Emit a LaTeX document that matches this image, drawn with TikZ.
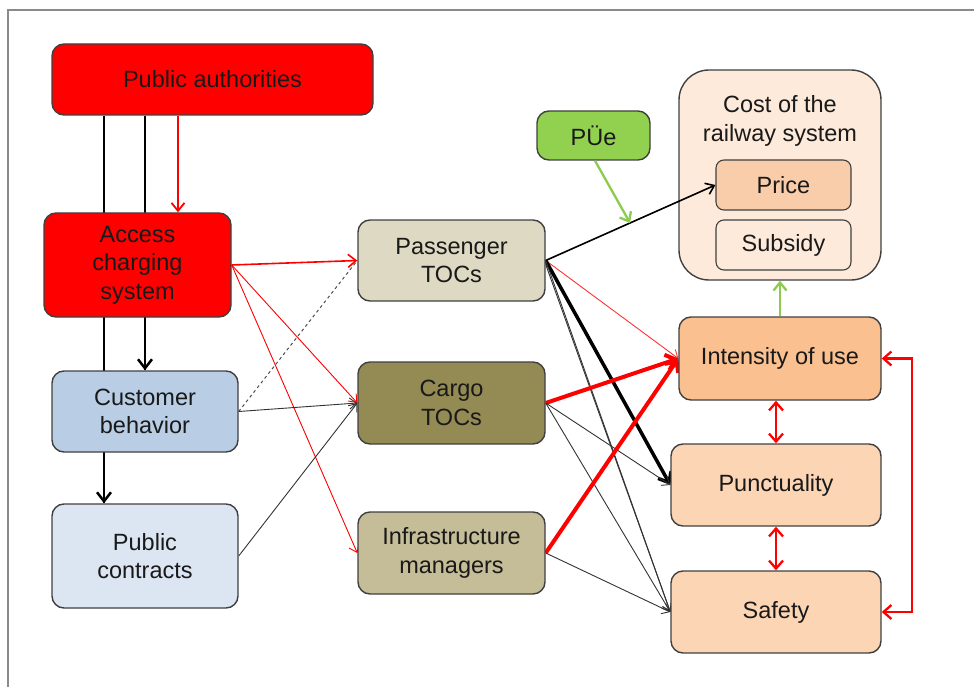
\documentclass[tikz,border=0pt]{standalone}
\usepackage{fontspec}
\setmainfont{Liberation Sans}
\usetikzlibrary{arrows.meta,calc,backgrounds}
\definecolor{cRed}{HTML}{FF0000}
\definecolor{cCB}{HTML}{B9CDE5}
\definecolor{cPC}{HTML}{DCE6F2}
\definecolor{cPT}{HTML}{DDD9C3}
\definecolor{cCT}{HTML}{948A54}
\definecolor{cIM}{HTML}{C4BD97}
\definecolor{cPU}{HTML}{92D050}
\definecolor{cCost}{HTML}{FDEADA}
\definecolor{cPrice}{HTML}{F9CDAA}
\definecolor{cIU}{HTML}{FAC090}
\definecolor{cPS}{HTML}{FCD5B5}
\definecolor{cEdge}{HTML}{404040}
\definecolor{cGreen}{HTML}{8CCB4E}
\definecolor{cFrame}{HTML}{8A8A8A}
\tikzset{
  box/.style={draw=cEdge, line width=1.4pt, rounded corners=12pt, align=center,
    inner sep=0pt, font=\fontsize{23.5}{28.5}\selectfont, text=black!90},
  thinarr/.style={line width=0.9pt, -{Straight Barb[length=7pt,width=11pt]}},
  medarr/.style={line width=1.6pt, -{Straight Barb[length=8pt,width=13pt]}},
  thickarr/.style={line width=3.5pt, -{Straight Barb[length=9pt,width=15pt]}},
  redthick/.style={line width=4pt, -{Straight Barb[length=9pt,width=16pt]}},
  dblarr/.style={line width=2.3pt, {Straight Barb[length=8pt,width=14pt]}-{Straight Barb[length=8pt,width=14pt]}},
}
\begin{document}
\begin{tikzpicture}[x=1pt,y=1pt]
\useasboundingbox (0,0) rectangle (974,-687);
\draw[cFrame, line width=1.5pt] (8,-687) -- (8,-10) -- (974,-10);

% nodes
\node[box, fill=cRed, minimum width=321, minimum height=71] (PA) at (212.5,-79.5) {Public authorities};
\node[box, fill=cRed, minimum width=187, minimum height=104] (ACS) at (137.5,-265) {Access\\charging\\system};
\node[box, fill=cCB, minimum width=186, minimum height=81] (CB) at (145,-411.5) {Customer\\behavior};
\node[box, fill=cPC, minimum width=186, minimum height=104] (PC) at (145,-556) {Public\\contracts};
\node[box, fill=cPT, minimum width=187, minimum height=81] (PT) at (451.5,-260.5) {Passenger\\TOCs};
\node[box, fill=cCT, minimum width=187, minimum height=82] (CT) at (451.5,-403) {Cargo\\TOCs};
\node[box, fill=cIM, minimum width=187, minimum height=82] (IM) at (451.5,-553) {Infrastructure\\managers};
\node[box, fill=cPU, minimum width=113, minimum height=49] (PUe) at (593.5,-135.5) {PÜe};
\node[box, fill=cCost, rounded corners=30pt, minimum width=202, minimum height=210] (Cost) at (780,-175) {};
\node[font=\fontsize{23.5}{28.5}\selectfont, align=center, text=black!90, inner sep=0pt] (CostT) at (780,-121) {Cost of the\\railway system};
\node[box, fill=cPrice, line width=1.1pt, rounded corners=8pt, minimum width=135, minimum height=50] (Price) at (783.5,-185) {Price};
\node[box, fill=cCost, line width=1.1pt, rounded corners=8pt, minimum width=135, minimum height=50] (Sub) at (783.5,-245) {Subsidy};
\node[box, fill=cIU, minimum width=202, minimum height=83] (IU) at (780,-358.5) {Intensity of use};
\node[box, fill=cPS, minimum width=210, minimum height=82] (Pu) at (776,-485) {Punctuality};
\node[box, fill=cPS, minimum width=210, minimum height=82] (Sa) at (776,-612) {Safety};

\coordinate (g) at ($(PT.east)!0.497!(Price.west)$);

% passenger -> price, drawn over the cost box
\draw[black, line width=1.6pt, -{Straight Barb[length=8pt,width=12pt]}] (PT.east) -- (Price.west);
\draw[cGreen, line width=2.3pt, -{Straight Barb[length=8pt,width=13pt]}] ([xshift=1.5pt]PUe.south) -- (g);

\begin{scope}[on background layer]
% vertical black lines
\draw[black, line width=2.5pt] ([xshift=-108.5pt]PA.south) -- ([xshift=-41pt]PC.north);
\draw[black, line width=2.5pt, -{Straight Barb[length=9pt,width=14pt]}] ([xshift=-41pt]PC.north |- CB.south) -- ([xshift=-41pt]PC.north);
\draw[black, line width=2.5pt] ([xshift=-67.5pt]PA.south) -- (CB.north);
\draw[black, line width=2.5pt, -{Straight Barb[length=9pt,width=14pt]}] (ACS.south -| CB.north) -- (CB.north);
\draw[cRed, line width=1.8pt, -{Straight Barb[length=8pt,width=13pt]}] ([xshift=-34.5pt]PA.south) -- ([xshift=40.5pt]ACS.north);
% from access charging
\draw[cRed, medarr] (ACS.east) -- (PT.west);
\draw[cRed, thinarr] (ACS.east) -- (CT.west);
\draw[cRed, thinarr] (ACS.east) -- (IM.west);
% customer / contracts
\draw[black!70, line width=1pt, dashed] (CB.east) -- (PT.west);
\draw[black!80, thinarr] (CB.east) -- (CT.west);
\draw[black!80, thinarr] (PC.east) -- (CT.west);
% from passenger TOCs
\draw[cRed!80, thinarr] (PT.east) -- (IU.west);
\draw[black, thickarr] (PT.east) -- (Pu.west);
\draw[black!80, thinarr] (PT.east) -- (Sa.west);
\draw[black!80, thinarr] ([yshift=-4pt]PT.east) -- (Sa.west);
% from cargo
\draw[cRed, redthick] (CT.east) -- (IU.west);
\draw[black!80, thinarr] (CT.east) -- (Pu.west);
\draw[black!80, thinarr] (CT.east) -- (Sa.west);
% from infrastructure managers
\draw[cRed, redthick] (IM.east) -- (IU.west);
\draw[black!80, thinarr] (IM.east) -- (Sa.west);
% green
\draw[cGreen, line width=2.3pt, -{Straight Barb[length=8pt,width=13pt]}] (IU.north) -- (Cost.south);
% right side red
\draw[cRed, dblarr] (Pu.north |- IU.south) -- (Pu.north);
\draw[cRed, dblarr] (Pu.south) -- (Sa.north);
\draw[cRed, dblarr] (IU.east) -- ++(30,0) |- (Sa.east);
\end{scope}
\end{tikzpicture}
\end{document}
